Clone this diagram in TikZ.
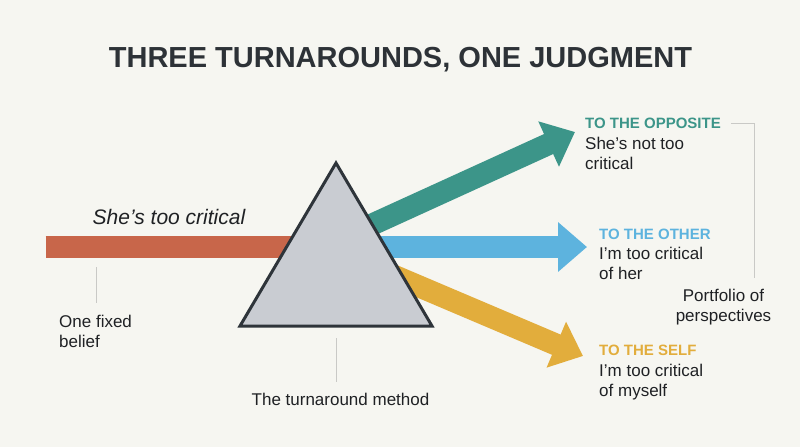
\documentclass[tikz,border=0pt]{standalone}
\usepackage{fontspec}
\setmainfont{Liberation Sans}
\usetikzlibrary{arrows.meta, positioning, calc}
\definecolor{paper}{HTML}{F6F6F1}
\definecolor{ink}{HTML}{1F2124}
\definecolor{titleink}{HTML}{2D3237}
\definecolor{beamred}{HTML}{C8664A}
\definecolor{beamteal}{HTML}{3C9589}
\definecolor{beamblue}{HTML}{5DB3DE}
\definecolor{beamgold}{HTML}{E2AD3C}
\definecolor{prismfill}{HTML}{C9CCD2}
\definecolor{prismedge}{HTML}{2E343A}
\definecolor{leadgray}{HTML}{C9C9C6}
\tikzset{
  beam/.style    = {line width=22pt, -{Triangle[length=29pt, width=48pt]}},
  prism/.style   = {draw=prismedge, fill=prismfill, line width=3pt},
  lead/.style    = {draw=leadgray, line width=1pt},
  headlbl/.style = {font=\fontsize{15}{18}\selectfont\bfseries,
                    anchor=base west, inner sep=0pt},
  bodylbl/.style = {font=\fontsize{17}{20}\selectfont, text=ink,
                    align=left, inner sep=0pt},
}

\begin{document}
\begin{tikzpicture}[x=1pt, y=-1pt]
  \fill[paper] (0,0) rectangle (800,447);
  \useasboundingbox (0,0) rectangle (800,447);

  \node[font=\fontsize{29}{34}\selectfont\bfseries, text=titleink,
        anchor=base, inner sep=0pt] (title) at (400.5,67.3)
        {THREE TURNAROUNDS, ONE JUDGMENT};

  % beams, drawn under the prism
  \coordinate (src)   at (45.7,247);
  \coordinate (core)  at (336,247);
  \coordinate (coreO) at (336,241);
  \coordinate (coreS) at (338,252);
  \coordinate (tipO)  at (575,132);
  \coordinate (tipT)  at (587,247);
  \coordinate (tipS)  at (583,356);

  \draw[beamred, line width=22pt] (src) -- (core);
  \draw[beam, beamteal] (coreO) -- (tipO);
  \draw[beam, beamblue] (core) -- (tipT);
  \draw[beam, beamgold] (coreS) -- (tipS);

  \draw[prism] (240,326) -- (336,163) -- (432,326) -- cycle;

  \node[font=\fontsize{21}{24}\selectfont\itshape, text=ink,
        anchor=base, inner sep=0pt] (claim) at (169,224) {She's too critical};

  % outputs
  \node[headlbl, text=beamteal] (oppH) at (585,128.3) {TO THE OPPOSITE};
  \node[bodylbl, below=8pt of oppH.south west, anchor=north west] (oppB)
       {She's not too\\critical};
  \node[headlbl, text=beamblue] (othH) at (599,239) {TO THE OTHER};
  \node[bodylbl, below=8pt of othH.south west, anchor=north west] (othB)
       {I'm too critical\\of her};
  \node[headlbl, text=beamgold] (selfH) at (599,355.7) {TO THE SELF};
  \node[bodylbl, below=8pt of selfH.south west, anchor=north west] (selfB)
       {I'm too critical\\of myself};

  \node[bodylbl, align=center, anchor=north] (folio) at (723.5,288.5)
       {Portfolio of\\perspectives};
  \coordinate (brkEnd) at (754,278);
  \draw[lead] ($(oppH.east)+(10,0)$) -| (brkEnd);

  % lead lines
  \node[bodylbl, anchor=north west] (belief) at (59,315.3) {One fixed\\belief};
  \coordinate (bTop) at (96,267);
  \draw[lead] (bTop) -- ($(bTop |- belief.north)+(0,-12)$);

  \node[bodylbl, anchor=base] (method) at (340.5,405) {The turnaround method};
  \coordinate (mTop) at (336,338);
  \draw[lead] (mTop) -- ($(mTop |- method.north)+(0,-10)$);
\end{tikzpicture}
\end{document}
